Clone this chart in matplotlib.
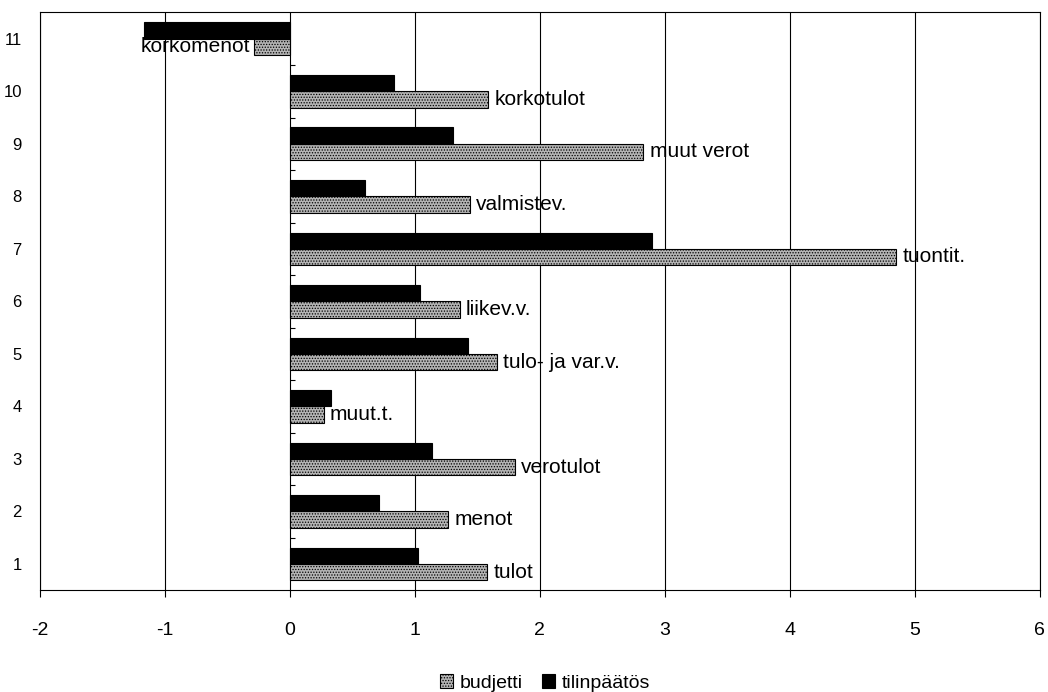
import matplotlib
matplotlib.use("Agg")
import numpy as np
import matplotlib.pyplot as plt

plt.rcParams['font.family'] = ['Liberation Sans', 'DejaVu Sans']
plt.rcParams['hatch.color'] = '#444444'
plt.rcParams['hatch.linewidth'] = 0.6

positions = [1, 2, 3, 4, 5, 6, 7, 8, 9, 10, 11]
names = ["tulot", "menot", "verotulot", "muut.t.", "tulo- ja var.v.", "liikev.v.",
         "tuontit.", "valmistev.", "muut verot", "korkotulot", "korkomenot"]
budjetti = [1.58, 1.27, 1.80, 0.27, 1.66, 1.36, 4.85, 1.44, 2.83, 1.59, -0.29]
tilinpaatos = [1.03, 0.71, 1.14, 0.33, 1.43, 1.04, 2.90, 0.60, 1.31, 0.83, -1.17]
xticks = [-2, -1, 0, 1, 2, 3, 4, 5, 6]

fig = plt.figure(figsize=(10.48, 6.92), dpi=100)
ax = fig.add_axes([0.038, 0.147, 0.954, 0.835])

h = 0.31
y = np.array(positions)
ax.barh(y - h / 2, budjetti, height=h, color='#b4b4b4', edgecolor='black',
        linewidth=0.8, hatch='......', label='budjetti', zorder=3)
ax.barh(y + h / 2, tilinpaatos, height=h, color='black', edgecolor='black',
        linewidth=0.8, label='tilinpäätös', zorder=3)

for yy, val, name in zip(y, budjetti, names):
    if val >= 0:
        ax.text(val + 0.05, yy - h / 2, name, ha='left', va='center', fontsize=15, zorder=4)
    else:
        ax.text(val - 0.03, yy - h / 2, name, ha='right', va='center', fontsize=15, zorder=4)

# small category-boundary ticks on the zero axis
ax.hlines(np.arange(1.5, 11.5, 1.0), 0, 0.04, color='black', linewidth=0.8, zorder=4)

ax.set_xlim(-2, 6)
ax.set_ylim(0.5, 11.5)
ax.set_xticks(xticks)
ax.set_xticklabels([str(v) for v in xticks], fontsize=14)
ax.set_yticks(positions)
ax.set_yticklabels([str(p) for p in positions], fontsize=12)
ax.tick_params(axis='y', length=0, pad=13)
ax.tick_params(axis='x', length=5, width=0.8, direction='out', pad=18)
ax.grid(axis='x', color='black', linewidth=0.8, zorder=1)
for s in ax.spines.values():
    s.set_linewidth(0.8)
    s.set_color('black')

ax.legend(loc='upper center', bbox_to_anchor=(0.505, -0.115), ncol=2, frameon=False,
          fontsize=14, handlelength=0.7, handleheight=0.7, handletextpad=0.3,
          columnspacing=1.0)

fig.savefig("out.png", dpi=100)
